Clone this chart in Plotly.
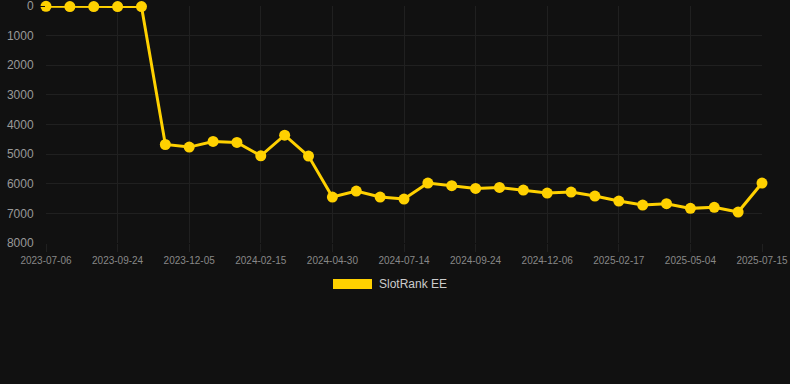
import plotly.graph_objects as go

dates = [
    "2023-07-06", "2023-08-01", "2023-08-28", "2023-09-24", "2023-10-18", "2023-11-11",
    "2023-12-05", "2023-12-29", "2024-01-22", "2024-02-15", "2024-03-11", "2024-04-05",
    "2024-04-30", "2024-05-25", "2024-06-19", "2024-07-14", "2024-08-07", "2024-08-31",
    "2024-09-24", "2024-10-18", "2024-11-12", "2024-12-06", "2024-12-30", "2025-01-24",
    "2025-02-17", "2025-03-14", "2025-04-08", "2025-05-04", "2025-05-28", "2025-06-21",
    "2025-07-15",
]
rank = [
    10, 20, 20, 20, 20, 4675, 4763, 4573, 4607, 5056, 4359, 5067, 6449, 6247, 6449,
    6517, 5977, 6067, 6157, 6124, 6213, 6315, 6280, 6415, 6584, 6719, 6674, 6831,
    6797, 6955, 5977,
]
series_name = "SlotRank EE"
y_ticks = [0, 1000, 2000, 3000, 4000, 5000, 6000, 7000, 8000]
x_ticks = dates[::3]

gold = "#FFD100"
bg = "#111111"
grid = "#202020"

fig = go.Figure()
fig.add_trace(go.Scatter(
    x=dates, y=rank, mode="lines+markers", name=series_name,
    line=dict(color=gold, width=3),
    marker=dict(color=gold, size=11),
    cliponaxis=False, showlegend=False,
))

fig.update_layout(
    width=790, height=384,
    paper_bgcolor=bg, plot_bgcolor=bg,
    margin=dict(l=46, r=28, t=6, b=141, autoexpand=False),
    font=dict(family="Liberation Sans, Arial, sans-serif", color="#888888"),
    xaxis=dict(
        type="category", categoryorder="array", categoryarray=dates,
        range=[0, len(dates) - 1],
        tickmode="array", tickvals=x_ticks, ticktext=x_ticks,
        tickfont=dict(size=10, color="#888888"),
        showgrid=True, gridcolor=grid, gridwidth=1,
        ticks="outside", ticklen=8, tickcolor=grid,
        showline=False, zeroline=False,
        ticklabeloverflow="allow", automargin=False,
    ),
    yaxis=dict(
        range=[8000, 0],
        tickmode="array", tickvals=y_ticks, ticktext=[str(v) for v in y_ticks],
        tickfont=dict(size=12, color="#999999"),
        showgrid=True, gridcolor=grid, gridwidth=1,
        ticks="outside", ticklen=9, tickcolor=bg,
        showline=False, zeroline=False,
        ticklabeloverflow="allow", automargin=False,
    ),
    shapes=[dict(
        type="rect", xref="paper", yref="paper",
        x0=(333 - 46) / 716, x1=(372 - 46) / 716,
        y0=(243 - 289) / 237, y1=(243 - 279) / 237,
        fillcolor=gold, line=dict(width=0),
    )],
    annotations=[dict(
        text=series_name, xref="paper", yref="paper",
        x=(377 - 46) / 716, y=(243 - 284) / 237,
        xanchor="left", yanchor="middle", showarrow=False,
        font=dict(size=12, color="#cccccc"),
    )],
)

fig.write_html(
    "out.html",
    config={"displayModeBar": False},
    post_script="document.body.style.margin='0';document.body.style.background='#111111';",
)
